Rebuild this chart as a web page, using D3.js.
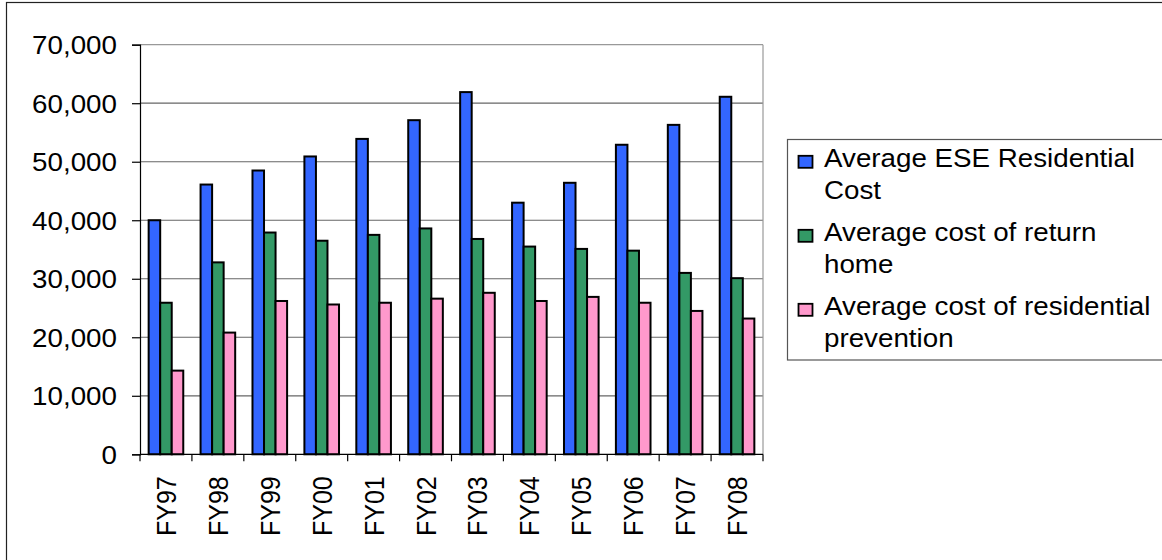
<!DOCTYPE html>
<html>
<head>
<meta charset="utf-8">
<script src="https://cdn.jsdelivr.net/npm/d3@7"></script>
<style>
  html, body { margin: 0; padding: 0; background: #fff; }
  svg { display: block; }
  text { font-family: "Liberation Sans", Arial, sans-serif; fill: #000; }
</style>
</head>
<body>
<svg id="chart" width="1162" height="560"></svg>
<script>
// Fiscal years on the category axis
const categories = ["FY97","FY98","FY99","FY00","FY01","FY02","FY03","FY04","FY05","FY06","FY07","FY08"];

// Series names as shown in the legend
const seriesNames = [
  "Average ESE Residential Cost",
  "Average cost of return home",
  "Average cost of residential prevention"
];

// Average cost per series, by fiscal year
const eseResidential   = [40000, 46100, 48500, 50900, 53900, 57100, 61900, 43000, 46400, 52900, 56300, 61100];
const returnHome       = [25900, 32800, 37900, 36500, 37500, 38600, 36800, 35500, 35100, 34800, 31000, 30100];
const residentialPrev  = [14300, 20800, 26200, 25600, 25900, 26600, 27600, 26200, 26900, 25900, 24500, 23200];

// Value-axis tick values
const yTicks = [0, 10000, 20000, 30000, 40000, 50000, 60000, 70000];

// Legend labels broken into lines
const legendLines = [
  ["Average ESE Residential", "Cost"],
  ["Average cost of return", "home"],
  ["Average cost of residential", "prevention"]
];

const seriesValues = [eseResidential, returnHome, residentialPrev];
const colors = ["#3366FF", "#339966", "#FF99CC"];

const svg = d3.select("#chart");
const SX = 1.11;           // horizontal widening of the lettering
const fontSize = 25;

const plot = { left: 140, right: 763, top: 44.7, bottom: 454.3 };

// Outer chart frame
svg.append("rect")
  .attr("x", 6.5).attr("y", 2.5)
  .attr("width", 1170).attr("height", 570)
  .attr("fill", "none").attr("stroke", "#222").attr("stroke-width", 1.2);

const x = d3.scaleBand().domain(categories).range([plot.left, plot.right]).padding(0);
const xs = d3.scaleBand().domain(d3.range(seriesNames.length))
  .range([0, x.bandwidth()]).paddingInner(0).paddingOuter(0.75);
const y = d3.scaleLinear().domain([0, 70000]).range([plot.bottom, plot.top]);

// Gridlines
svg.append("g").selectAll("line")
  .data(yTicks.filter(d => d > 0))
  .join("line")
  .attr("x1", plot.left).attr("x2", plot.right)
  .attr("y1", d => y(d)).attr("y2", d => y(d))
  .attr("stroke", d => d === 70000 ? "#999" : "#666")
  .attr("stroke-width", 1.2);

// Plot area right border
svg.append("line")
  .attr("x1", plot.right).attr("x2", plot.right)
  .attr("y1", plot.top).attr("y2", plot.bottom)
  .attr("stroke", "#999").attr("stroke-width", 1.2);

// Bars
const groups = svg.append("g").selectAll("g")
  .data(categories)
  .join("g")
  .attr("transform", d => `translate(${x(d)},0)`);

groups.selectAll("rect")
  .data((c, i) => seriesValues.map((vals, s) => ({ s, v: vals[i] })))
  .join("rect")
  .attr("x", d => xs(d.s))
  .attr("width", xs.bandwidth())
  .attr("y", d => y(d.v))
  .attr("height", d => y(0) - y(d.v))
  .attr("fill", d => colors[d.s])
  .attr("stroke", "#000")
  .attr("stroke-width", 2);

// Value axis
const yAxis = d3.axisLeft(y).tickValues(yTicks).tickSize(8).tickFormat(d3.format(","));
const yg = svg.append("g").attr("transform", `translate(${plot.left},0)`).call(yAxis);
yg.select(".domain").attr("stroke", "#000").attr("stroke-width", 1.2);
yg.selectAll(".tick line").attr("stroke", "#000").attr("stroke-width", 1.2);
yg.selectAll(".tick text").remove();
yg.selectAll(".tick").append("text")
  .attr("text-anchor", "end")
  .attr("font-size", fontSize)
  .attr("transform", `translate(-23,9) scale(${SX},1)`)
  .text(d => d3.format(",")(d));

// Category axis
svg.append("line")
  .attr("x1", plot.left).attr("x2", plot.right)
  .attr("y1", plot.bottom).attr("y2", plot.bottom)
  .attr("stroke", "#000").attr("stroke-width", 1.2);

const boundaries = categories.map(c => x(c)).concat([plot.right]);
svg.append("g").selectAll("line")
  .data(boundaries)
  .join("line")
  .attr("x1", d => d).attr("x2", d => d)
  .attr("y1", plot.bottom).attr("y2", plot.bottom + 7)
  .attr("stroke", "#000").attr("stroke-width", 1.2);

svg.append("g").selectAll("text")
  .data(categories)
  .join("text")
  .attr("text-anchor", "end")
  .attr("font-size", fontSize)
  .attr("transform", d => `translate(${x(d) + x.bandwidth() / 2 + 10},${plot.bottom + 22}) scale(${SX},1) rotate(-90)`)
  .text(d => d);

// Legend
const legend = svg.append("g");
legend.append("rect")
  .attr("x", 787.5).attr("y", 139.5)
  .attr("width", 380).attr("height", 220.5)
  .attr("fill", "#fff").attr("stroke", "#555").attr("stroke-width", 1.2);

const items = legend.selectAll("g.item")
  .data(seriesNames)
  .join("g")
  .attr("class", "item")
  .attr("transform", (d, i) => `translate(0,${167.3 + i * 74})`);

items.append("rect")
  .attr("x", 798.5).attr("y", -11.5)
  .attr("width", 14).attr("height", 12)
  .attr("fill", (d, i) => colors[i])
  .attr("stroke", "#000").attr("stroke-width", 1.8);

items.each(function(d, i) {
  d3.select(this).selectAll("text")
    .data(legendLines[i])
    .join("text")
    .attr("font-size", fontSize)
    .attr("transform", (t, j) => `translate(824,${j * 31.7}) scale(${SX},1)`)
    .text(t => t);
});
</script>
</body>
</html>
